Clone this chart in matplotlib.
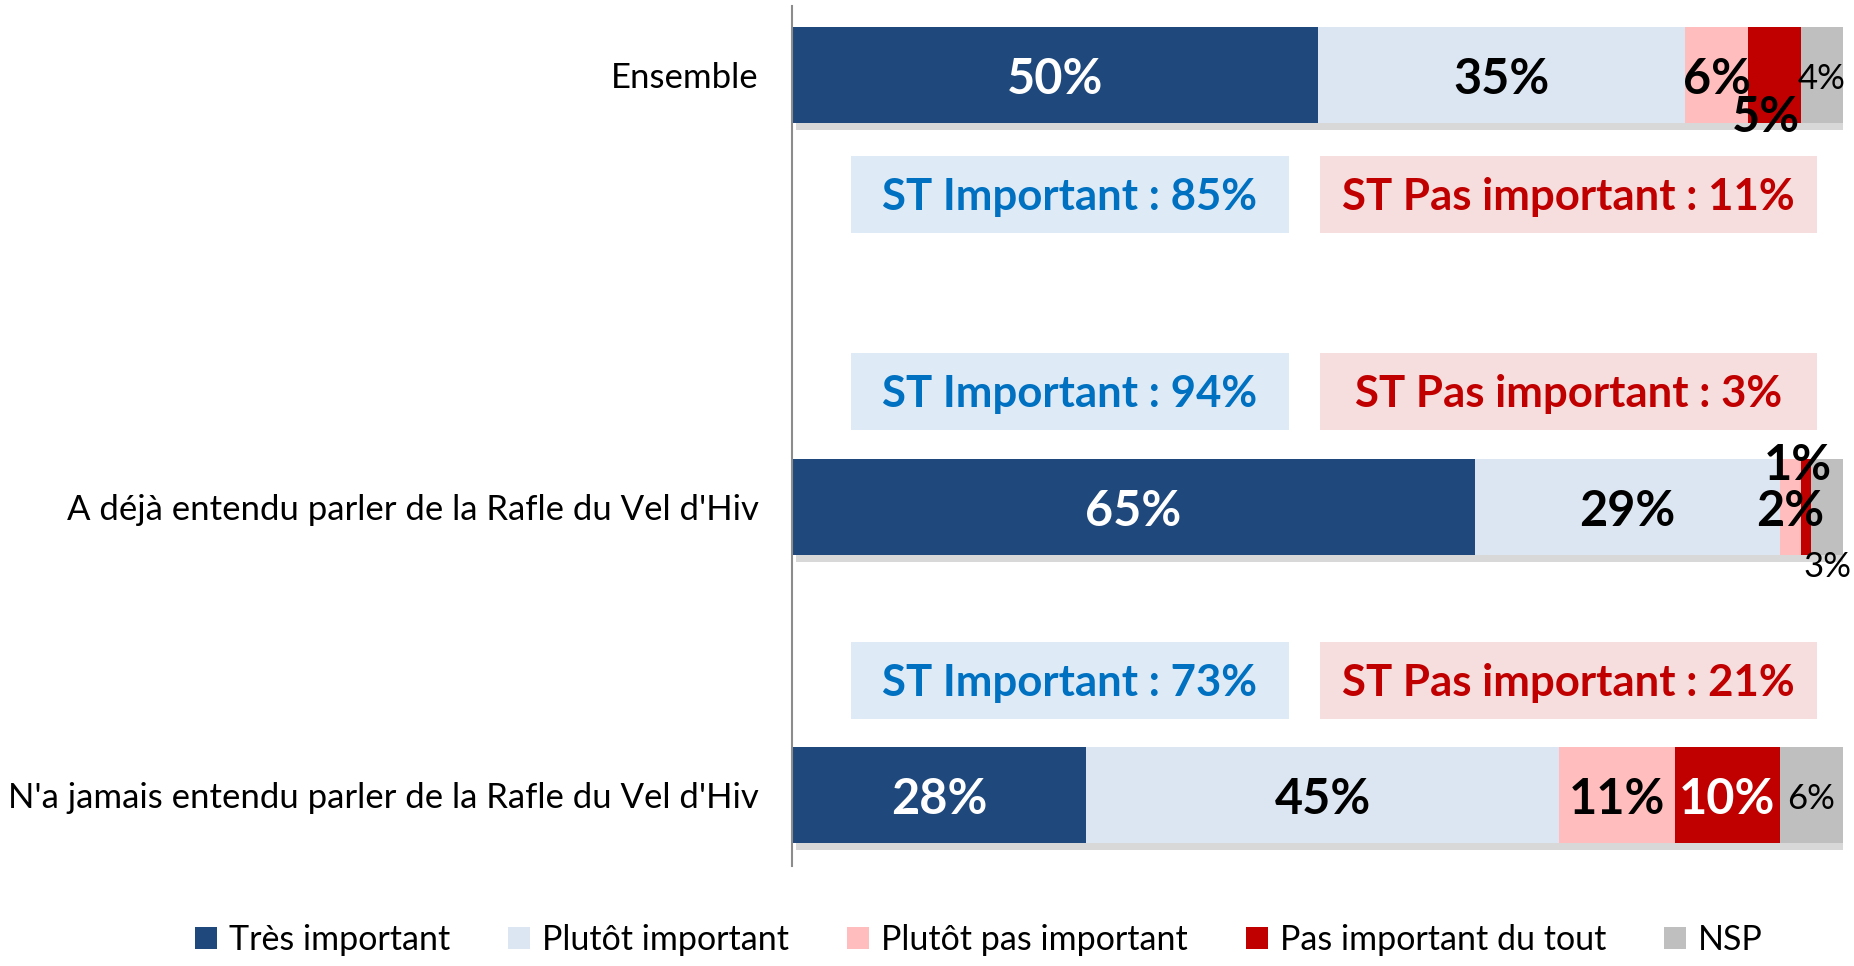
import numpy as np
import matplotlib.pyplot as plt
import matplotlib.patheffects as pe
from matplotlib.patches import Rectangle, Patch

plt.rcParams['font.family'] = ['Lato', 'DejaVu Sans']

# Données
categories = ["Ensemble",
              "A déjà entendu parler de la Rafle du Vel d'Hiv",
              "N'a jamais entendu parler de la Rafle du Vel d'Hiv"]
tres_important = [50, 65, 28]
plutot_important = [35, 29, 45]
plutot_pas_important = [6, 2, 11]
pas_important_du_tout = [5, 1, 10]
nsp = [4, 3, 6]
st_important = [85, 94, 73]
st_pas_important = [11, 3, 21]

series_names = ["Très important", "Plutôt important", "Plutôt pas important",
                "Pas important du tout", "NSP"]
series = [tres_important, plutot_important, plutot_pas_important,
          pas_important_du_tout, nsp]
colors = ["#1F497D", "#DCE6F2", "#FFBDBD", "#C00000", "#BFBFBF"]

# Mise en page (unités pixels sur l'axe y)
bar_y = [75, 507, 795]
bar_h = 96
box_y = [194, 391, 680]
box_h = 77

fig = plt.figure(figsize=(18.54, 9.66), dpi=100)
ax = fig.add_axes([792 / 1854, 1 - 866 / 966, 1051 / 1854, 860 / 966])
ax.set_xlim(0, 100)
ax.set_ylim(866, 6)

shadow = [pe.withSimplePatchShadow(offset=(3, -5), shadow_rgbFace='#909090', alpha=0.35)]

left = np.zeros(3)
for k, (vals, col) in enumerate(zip(series, colors)):
    bars = ax.barh(bar_y, vals, height=bar_h, left=left, color=col, zorder=2)
    for b in bars:
        b.set_path_effects(shadow)
    left += np.array(vals)

# Etiquettes des segments
left = np.zeros(3)
for k, vals in enumerate(series):
    for i, v in enumerate(vals):
        xc = left[i] + v / 2
        yc = bar_y[i] + 4
        bold = k < 4
        size = 35 if bold else 25
        if k == 0 or (k == 3 and v >= 8):
            tc = 'white'
        else:
            tc = 'black'
        dx = 0
        if k == 3 and v < 8:
            yc += 38 if i == 0 else -46
            dx = -0.8
        if k == 4 and i == 1:
            yc += 56
        ax.text(xc + dx, yc, f"{v}%", ha='center', va='center', color=tc,
                fontsize=size, fontweight='bold' if bold else 'normal', zorder=4)
    left += np.array(vals)

# Encadrés ST
for i in range(3):
    ax.add_patch(Rectangle((5.6, box_y[i] - box_h / 2), 41.7, box_h,
                           facecolor='#DEEBF7', edgecolor='none', zorder=1))
    ax.add_patch(Rectangle((50.2, box_y[i] - box_h / 2), 47.3, box_h,
                           facecolor='#F5DEDD', edgecolor='none', zorder=1))
    ax.text(26.45, box_y[i] + 3, f"ST Important : {st_important[i]}%", ha='center',
            va='center', color='#0070C0', fontsize=31.5, fontweight='bold', zorder=3)
    ax.text(73.85, box_y[i] + 3, f"ST Pas important : {st_pas_important[i]}%", ha='center',
            va='center', color='#C00000', fontsize=31.5, fontweight='bold', zorder=3)

# Axes
for s in ['top', 'right', 'bottom']:
    ax.spines[s].set_visible(False)
ax.spines['left'].set_color('#8C8C8C')
ax.spines['left'].set_linewidth(1.5)
ax.set_xticks([])
ax.set_yticks(bar_y)
ax.set_yticklabels(categories, fontsize=25)
ax.tick_params(axis='y', length=0, pad=24)

handles = [Patch(facecolor=c, edgecolor='none') for c in colors]
fig.legend(handles, series_names, loc='center', bbox_to_anchor=(0.528, 1 - 940 / 966),
           ncol=5, frameon=False, fontsize=24.5, handlelength=0.65, handleheight=0.65,
           handletextpad=0.35, columnspacing=1.7)

plt.savefig('out.png', dpi=100)
